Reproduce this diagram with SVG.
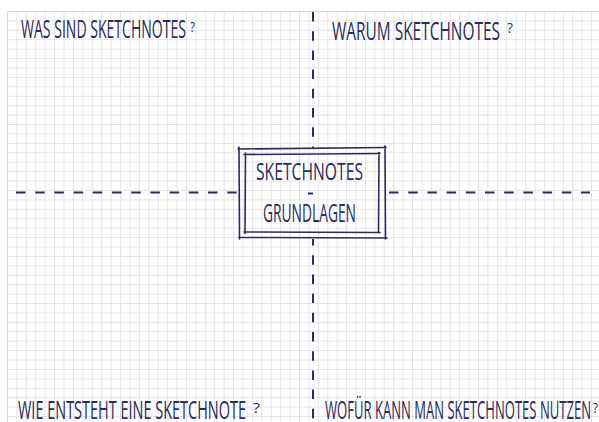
<svg xmlns="http://www.w3.org/2000/svg" width="599" height="422" viewBox="0 0 599 422">
  <defs>
    <!-- squared paper grid -->
    <pattern id="grid" patternUnits="userSpaceOnUse" x="7" y="11" width="9.42" height="9.42">
      <path d="M0 0.5 H9.42 M0.5 0 V9.42" fill="none" stroke="#e4e4e8" stroke-width="1"/>
    </pattern>
    <style>
      .ink { fill: #2c2b5a; font-family: "Open Sans", "Liberation Sans", "DejaVu Sans", sans-serif; font-weight: 400; }
      .title { font-size: 25px; }
      .q { font-size: 14px; }
      .dash { fill: none; stroke: #2c2b5a; stroke-width: 2; stroke-dasharray: 9.5 9.7; stroke-linecap: butt; }
      .frame { fill: none; stroke: #2c2b5a; stroke-width: 1.6; stroke-linecap: round; stroke-linejoin: round; }
    </style>
  </defs>

  <!-- page -->
  <rect width="599" height="422" fill="#ffffff"/>
  <rect x="7" y="11" width="592" height="411" fill="url(#grid)"/>
  <path d="M7.5 422 V11.5 H599" fill="none" stroke="#d4d4da" stroke-width="1"/>

  <!-- dashed quadrant dividers -->
  <g id="connectors">
    <path class="dash" d="M313 12 V148"/>
    <path class="dash" d="M313 239 V422" stroke-dashoffset="3"/>
    <path class="dash" d="M16 192.5 H237"/>
    <path class="dash" d="M389 192.5 H590"/>
    <path class="dash" d="M308 193.5 H313" style="stroke-dasharray:none"/>
  </g>

  <!-- top left -->
  <g id="q-was">
    <text class="ink title" x="21" y="38" textLength="165" lengthAdjust="spacingAndGlyphs">WAS SIND SKETCHNOTES</text>
    <text class="ink q" x="190" y="32" textLength="5" lengthAdjust="spacingAndGlyphs">?</text>
  </g>

  <!-- top right -->
  <g id="q-warum">
    <text class="ink title" x="332" y="40" textLength="168" lengthAdjust="spacingAndGlyphs">WARUM SKETCHNOTES</text>
    <text class="ink q" x="507" y="33" textLength="6" lengthAdjust="spacingAndGlyphs">?</text>
  </g>

  <!-- bottom left -->
  <g id="q-wie">
    <text class="ink title" x="18" y="419" textLength="228" lengthAdjust="spacingAndGlyphs">WIE ENTSTEHT EINE SKETCHNOTE</text>
    <text class="ink q" x="253" y="413" textLength="7" lengthAdjust="spacingAndGlyphs">?</text>
  </g>

  <!-- bottom right -->
  <g id="q-wofuer">
    <text class="ink title" x="325" y="419" textLength="266" lengthAdjust="spacingAndGlyphs">WOFÜR KANN MAN SKETCHNOTES NUTZEN</text>
    <text class="ink q" x="593" y="413" textLength="5" lengthAdjust="spacingAndGlyphs">?</text>
  </g>

  <!-- central title box -->
  <g id="center">
    <path class="frame" d="M238 149 L386 147.5 M385 146 L385.5 239 M387 238 L239 237.5 M239.5 239 L239 147"/>
    <path class="frame" d="M244 154.5 L380 153.5 M379 152.5 L378.5 233 M380 232.5 L244 232 M245 233.5 L245.5 153"/>
    <text class="ink" x="256" y="179.5" font-size="23" textLength="107" lengthAdjust="spacingAndGlyphs">SKETCHNOTES</text>
    <text class="ink" x="263" y="222" font-size="25" textLength="93" lengthAdjust="spacingAndGlyphs">GRUNDLAGEN</text>
  </g>
</svg>
